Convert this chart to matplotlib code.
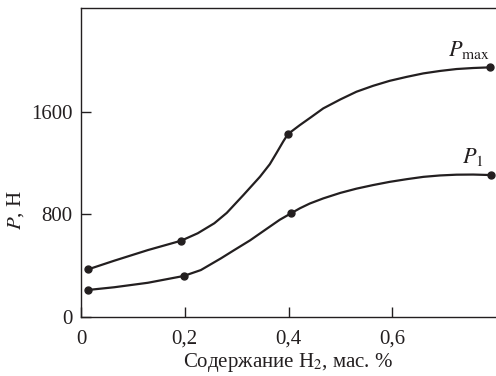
import numpy as np
import matplotlib
matplotlib.use("Agg")
import matplotlib.pyplot as plt

plt.rcParams["font.family"] = ["Liberation Serif", "DejaVu Serif"]
plt.rcParams["mathtext.fontset"] = "stix"

# measured points (H2 content, wt.%  ->  load, N)
pmax_px = [0.014, 0.193, 0.399, 0.788]
pmax_py = [372, 595, 1427, 1947]
p1_px = [0.014, 0.198, 0.405, 0.791]
p1_py = [211, 320, 809, 1107]

# smooth curves
pmax_cx = [0.014, 0.064, 0.129, 0.193, 0.225, 0.257, 0.281, 0.313, 0.345,
           0.364, 0.377, 0.390, 0.399, 0.422, 0.444, 0.467, 0.500, 0.531,
           0.563, 0.595, 0.628, 0.660, 0.692, 0.724, 0.756, 0.788]
pmax_cy = [372, 439, 522, 595, 653, 731, 812, 951, 1094,
           1192, 1280, 1370, 1427, 1497, 1560, 1627, 1697, 1757,
           1803, 1842, 1873, 1900, 1919, 1934, 1942, 1947]
p1_cx = [0.014, 0.064, 0.129, 0.198, 0.231, 0.270, 0.293, 0.326, 0.358,
         0.383, 0.405, 0.422, 0.441, 0.467, 0.500, 0.531, 0.563, 0.595,
         0.628, 0.660, 0.692, 0.724, 0.756, 0.791]
p1_cy = [211, 232, 267, 320, 366, 458, 516, 598, 688,
         758, 809, 848, 885, 925, 968, 1001, 1029, 1054,
         1075, 1093, 1104, 1110, 1111, 1107]

xticks = [0, 0.2, 0.4, 0.6]
xticklabels = ["0", "0,2", "0,4", "0,6"]
yticks = [0, 800, 1600]

ink = "#231f20"

fig = plt.figure(figsize=(4.96, 3.76), dpi=100)
ax = fig.add_axes([81 / 496, 59 / 376, 1 - 81 / 496, 309 / 376])

ax.plot(pmax_cx, pmax_cy, color=ink, lw=1.6, solid_capstyle="round", solid_joinstyle="round")
ax.plot(p1_cx, p1_cy, color=ink, lw=1.6, solid_capstyle="round", solid_joinstyle="round")
ax.plot(pmax_px, pmax_py, "o", color=ink, ms=5)
ax.plot(p1_px, p1_py, "o", color=ink, ms=5)

ax.text(0.789, 2085, r"$P_{\mathrm{max}}$", ha="right", va="center", fontsize=16, color=ink)
ax.text(0.777, 1250, r"$P_{\mathrm{1}}$", ha="right", va="center", fontsize=16, color=ink)

ax.set_xlim(0, 0.8)
ax.set_ylim(0, 2410)
ax.set_xticks(xticks)
ax.set_xticklabels(xticklabels)
ax.set_yticks(yticks)
ax.tick_params(direction="in", length=7, width=1, colors=ink, labelsize=15, pad=6)
ax.tick_params(axis="x", pad=9)

for s in ["left", "bottom", "top"]:
    ax.spines[s].set_linewidth(1.0)
    ax.spines[s].set_color(ink)
ax.spines["right"].set_visible(False)

ax.set_xlabel(r"Содержание H$_2$, мас. %", fontsize=15, color=ink, labelpad=2)
ax.set_ylabel(r"$P$, Н", fontsize=15, color=ink)
ax.yaxis.set_label_coords(-0.133, 0.345)

fig.savefig("out.png", dpi=100)
